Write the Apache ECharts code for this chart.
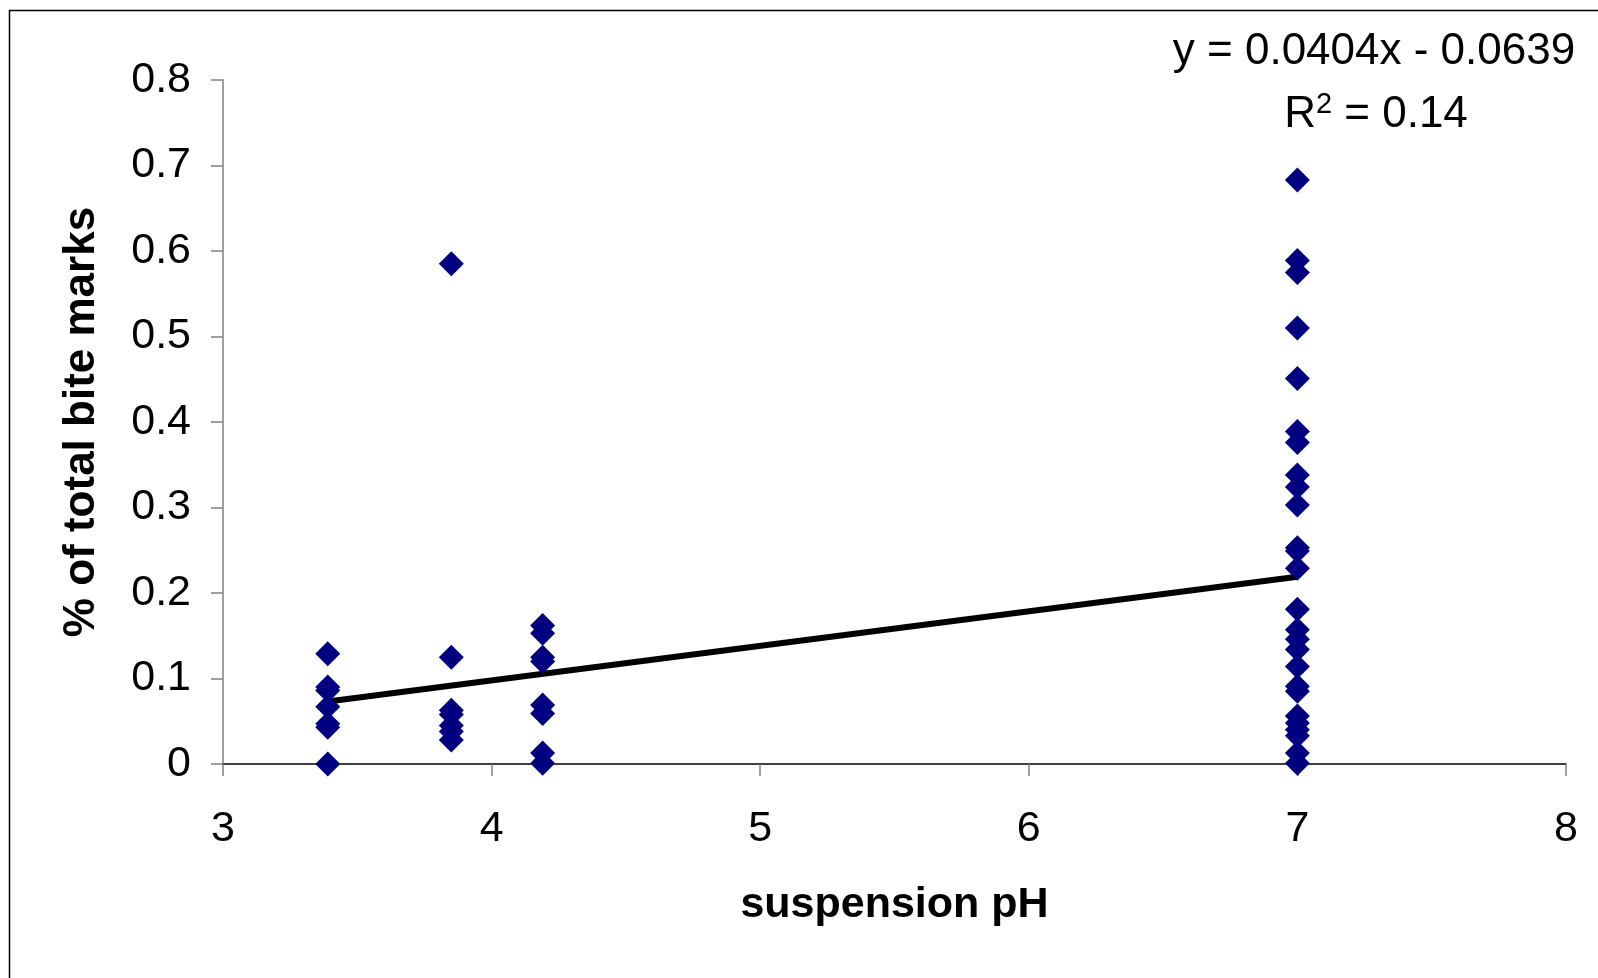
<!DOCTYPE html>
<html>
<head>
<meta charset="utf-8">
<title>Bite marks vs suspension pH</title>
<script src="https://cdn.jsdelivr.net/npm/echarts@6/dist/echarts.min.js"></script>
<style>
  html, body { margin: 0; padding: 0; background: #fff; }
  #chart { width: 1598px; height: 978px; }
</style>
</head>
<body>
<div id="chart"></div>
<script>
// Suspension pH levels tested
const phLevels = [3.39, 3.85, 4.19, 7];

// Fraction of total bite marks observed at each pH
const bitesPh339 = [0.129, 0.090, 0.086, 0.067, 0.047, 0.043, 0];
const bitesPh385 = [0.585, 0.125, 0.063, 0.058, 0.045, 0.038, 0.028];
const bitesPh419 = [0.162, 0.153, 0.125, 0.120, 0.069, 0.059, 0.013, 0.001];
const bitesPh7 = [0.683, 0.589, 0.575, 0.510, 0.451, 0.389, 0.376, 0.338, 0.324,
                  0.303, 0.253, 0.249, 0.229, 0.181, 0.157, 0.146, 0.134, 0.114,
                  0.091, 0.085, 0.056, 0.048, 0.040, 0.033, 0.013, 0.001];

// Linear fit reported on the chart
const fitSlope = 0.0404;
const fitIntercept = -0.0639;
const fitR2 = 0.14;

// Axis ticks
const xTicks = [3, 4, 5, 6, 7, 8];
const yTicks = [0, 0.1, 0.2, 0.3, 0.4, 0.5, 0.6, 0.7, 0.8];

const groups = [bitesPh339, bitesPh385, bitesPh419, bitesPh7];
const points = [];
groups.forEach((vals, i) => vals.forEach(v => points.push([phLevels[i], v])));

const xFitMin = phLevels[0];
const xFitMax = phLevels[phLevels.length - 1];
const fitLine = [xFitMin, xFitMax].map(x => [x, fitSlope * x + fitIntercept]);

const FONT = '"Liberation Sans", Arial, Helvetica, sans-serif';

const chart = echarts.init(document.getElementById('chart'), null, { renderer: 'canvas' });
chart.setOption({
  animation: false,
  backgroundColor: '#ffffff',
  grid: { left: 223, right: 32, top: 80, bottom: 214, containLabel: false },
  xAxis: {
    type: 'value',
    min: xTicks[0],
    max: xTicks[xTicks.length - 1],
    interval: 1,
    name: 'suspension pH',
    nameLocation: 'middle',
    nameGap: 120,
    nameTextStyle: { fontFamily: FONT, fontSize: 43, fontWeight: 'bold', color: '#000' },
    axisLine: { onZero: false, lineStyle: { color: '#000', width: 1.5 } },
    axisTick: { show: true, inside: false, length: 12, lineStyle: { color: '#808080', width: 1.5 } },
    axisLabel: { fontFamily: FONT, fontSize: 43, color: '#000', margin: 44 },
    splitLine: { show: false }
  },
  yAxis: {
    type: 'value',
    min: yTicks[0],
    max: yTicks[yTicks.length - 1],
    interval: 0.1,
    name: '% of total bite marks',
    nameLocation: 'middle',
    nameRotate: 90,
    nameGap: 141,
    nameTextStyle: { fontFamily: FONT, fontSize: 44, fontWeight: 'bold', color: '#000', verticalAlign: 'middle' },
    axisLine: { show: true, lineStyle: { color: '#808080', width: 1.5 } },
    axisTick: { show: true, inside: false, length: 12, lineStyle: { color: '#808080', width: 1.5 } },
    axisLabel: {
      fontFamily: FONT, fontSize: 43, color: '#000', margin: 32,
      formatter: v => (Math.round(v * 10) / 10).toString()
    },
    splitLine: { show: false }
  },
  graphic: [
    {
      type: 'rect',
      shape: { x: 9.5, y: 10.5, width: 1700, height: 1100 },
      style: { fill: 'none', stroke: '#000', lineWidth: 1.5 },
      silent: true, z: -1
    },
    {
      type: 'text',
      x: 1374, y: 52,
      style: {
        text: 'y = ' + fitSlope + 'x - ' + Math.abs(fitIntercept),
        fontFamily: FONT, fontSize: 44, fill: '#000',
        align: 'center', verticalAlign: 'middle'
      }
    },
    {
      type: 'text',
      x: 1376, y: 115,
      style: {
        text: '{r|R}{sup|2}{r| = ' + fitR2 + '}',
        align: 'center', verticalAlign: 'middle',
        rich: {
          r: { fontFamily: FONT, fontSize: 44, color: '#000' },
          sup: { fontFamily: FONT, fontSize: 29, color: '#000', verticalAlign: 'top', padding: [0, 0, 20, 0] }
        }
      }
    }
  ],
  series: [
    {
      type: 'line',
      data: fitLine,
      symbol: 'none',
      lineStyle: { color: '#000', width: 6 },
      z: 3,
      silent: true
    },
    {
      type: 'scatter',
      data: points,
      symbol: 'diamond',
      symbolSize: [25, 25],
      itemStyle: { color: '#000080', opacity: 1 },
      z: 4
    }
  ]
});
</script>
</body>
</html>
